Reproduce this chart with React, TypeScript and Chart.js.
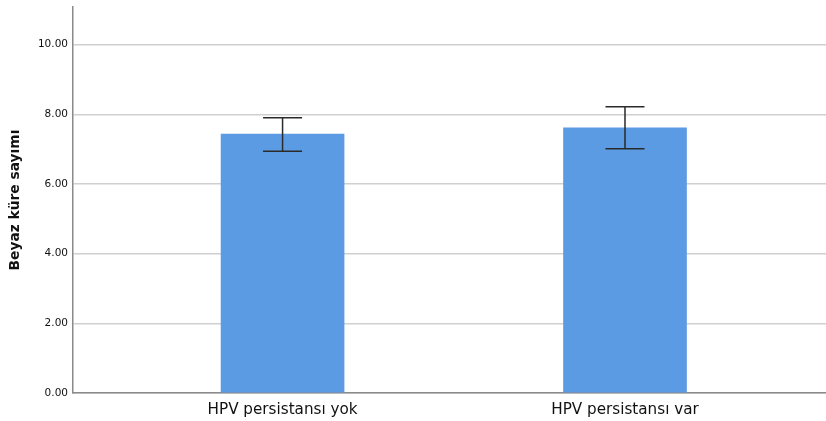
import React, { useEffect, useRef } from "react";
import { Chart, registerables } from "chart.js";

Chart.register(...registerables);

const categories = ["HPV persistansı yok", "HPV persistansı var"];
const means = [7.43, 7.61];
const errLow = [6.94, 7.01];
const errHigh = [7.9, 8.22];
const yTicks = [0, 2, 4, 6, 8, 10];
const yTitle = "Beyaz küre sayımı";

const FONT = "'DejaVu Sans', sans-serif";

const errorBarPlugin = {
  id: "errorBars",
  afterDatasetsDraw(chart: any) {
    const ctx = chart.ctx;
    const meta = chart.getDatasetMeta(0);
    const y = chart.scales.y;
    ctx.save();
    ctx.strokeStyle = "#2a2a2a";
    ctx.lineWidth = 1.5;
    meta.data.forEach((bar: any, i: number) => {
      const x = bar.x;
      const yl = y.getPixelForValue(errLow[i]);
      const yh = y.getPixelForValue(errHigh[i]);
      const cap = 19.5;
      ctx.beginPath();
      ctx.moveTo(x, yl);
      ctx.lineTo(x, yh);
      ctx.moveTo(x - cap, yh);
      ctx.lineTo(x + cap, yh);
      ctx.moveTo(x - cap, yl);
      ctx.lineTo(x + cap, yl);
      ctx.stroke();
    });
    ctx.restore();
  },
};

export default function App() {
  const ref = useRef<HTMLCanvasElement>(null);
  useEffect(() => {
    document.body.style.margin = "0";
    const chart = new Chart(ref.current!, {
      type: "bar",
      data: {
        datasets: [
          {
            data: means.map((v, i) => ({ x: i + 1, y: v })),
            backgroundColor: "#5b9be3",
            borderWidth: 0,
            barThickness: 123,
          },
        ],
      },
      options: {
        responsive: false,
        animation: false,
        layout: { padding: { top: 7, right: 0, left: 0, bottom: 0 } },
        plugins: { legend: { display: false }, tooltip: { enabled: false } },
        scales: {
          x: {
            type: "linear",
            offset: false,
            min: 0.388,
            max: 2.587,
            grid: { display: false, drawTicks: false, offset: false },
            border: { display: true, color: "#8a8a8a", width: 1.5 },
            afterBuildTicks: (scale: any) => {
              scale.ticks = categories.map((_, i) => ({ value: i + 1 }));
            },
            afterFit: (scale: any) => {
              scale.height = 28;
              scale.paddingLeft = 0;
              scale.paddingRight = 0;
            },
            ticks: {
              autoSkip: false,
              maxRotation: 0,
              padding: 8,
              color: "#111",
              font: { family: FONT, size: 15.2 },
              callback: (v: any) => categories[Math.round(Number(v)) - 1] ?? "",
            },
          },
          y: {
            min: 0,
            max: 11.08,
            afterBuildTicks: (scale: any) => {
              scale.ticks = yTicks.map((v) => ({ value: v }));
            },
            afterFit: (scale: any) => {
              scale.width = 73;
              scale.paddingTop = 0;
              scale.paddingBottom = 0;
            },
            grid: { color: "#d0d0d0", lineWidth: 1.5, drawTicks: false },
            border: { display: true, color: "#8a8a8a", width: 1.5 },
            ticks: {
              padding: 5,
              color: "#111",
              font: { family: FONT, size: 10.5 },
              callback: (v: any) => Number(v).toFixed(2),
            },
            title: {
              display: true,
              text: yTitle,
              color: "#111",
              font: { family: FONT, size: 13.8, weight: "bold" },
              padding: { top: 7, bottom: 0 },
            },
          },
        },
      },
      plugins: [errorBarPlugin],
    } as any);
    return () => chart.destroy();
  }, []);
  return (
    <div style={{ position: "fixed", left: 0, top: 0, width: 826, height: 421 }}>
      <canvas ref={ref} width={826} height={421} />
    </div>
  );
}
